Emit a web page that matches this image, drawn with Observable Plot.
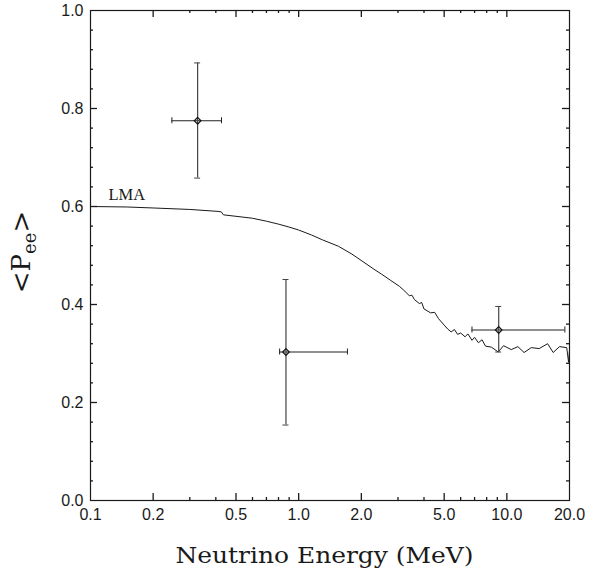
<!DOCTYPE html>
<html>
<head>
<meta charset="utf-8">
<script src="https://cdn.jsdelivr.net/npm/d3@7"></script>
<script src="https://cdn.jsdelivr.net/npm/@observablehq/plot@0.6"></script>
<style>
  html, body { margin: 0; padding: 0; background: #fff; }
</style>
</head>
<body>
<div id="chart"></div>
<script>
// LMA survival probability curve
const curveE = [0.1, 0.15, 0.2, 0.3, 0.41, 0.425, 0.435, 0.5, 0.6, 0.7, 0.8, 0.9, 1.0, 1.15, 1.3, 1.55, 1.8, 2.06, 2.3, 2.5, 2.75, 3.05, 3.2, 3.4, 3.5, 3.6, 3.8, 3.9, 4.0, 4.3, 4.5, 4.7, 5.0, 5.2, 5.4, 5.6, 5.8, 6.0, 6.3, 6.5, 6.8, 7.0, 7.3, 7.6, 7.9, 8.43, 9.1, 9.64, 10.5, 11.3, 12.1, 13.1, 14.3, 15.7, 16.7, 17.9, 19.4, 19.8, 20.0];
const curveP = [0.600, 0.599, 0.597, 0.594, 0.590, 0.589, 0.583, 0.580, 0.576, 0.570, 0.564, 0.558, 0.552, 0.542, 0.532, 0.519, 0.503, 0.486, 0.472, 0.462, 0.450, 0.437, 0.429, 0.418, 0.419, 0.410, 0.402, 0.404, 0.391, 0.383, 0.384, 0.371, 0.358, 0.350, 0.344, 0.349, 0.339, 0.342, 0.334, 0.340, 0.327, 0.333, 0.322, 0.328, 0.315, 0.313, 0.303, 0.316, 0.308, 0.314, 0.302, 0.312, 0.310, 0.320, 0.302, 0.314, 0.312, 0.282, 0.306];

// Measured points with error bars
const pointE    = [0.327, 0.869, 9.14];
const pointELow = [0.246, 0.81, 6.8];
const pointEHigh= [0.426, 1.715, 19.0];
const pointP    = [0.775, 0.303, 0.348];
const pointPLow = [0.658, 0.154, 0.303];
const pointPHigh= [0.893, 0.451, 0.396];

// Annotation
const annText = ["LMA"];
const annE = [0.122];
const annP = [0.614];

// Ticks
const xTickValues = [0.1, 0.2, 0.5, 1, 2, 5, 10, 20];
const xTickLabels = ["0.1", "0.2", "0.5", "1.0", "2.0", "5.0", "10.0", "20.0"];
const xMajor = [0.2, 0.5, 1, 2, 5, 10];
const xMinor = [0.3, 0.4, 0.6, 0.7, 0.8, 0.9, 3, 4, 6, 7, 8, 9];
const yTickValues = [0, 0.2, 0.4, 0.6, 0.8, 1.0];
const yTickLabels = ["0.0", "0.2", "0.4", "0.6", "0.8", "1.0"];
const yMajor = [0.2, 0.4, 0.6, 0.8];
const yMinor = [0.04, 0.08, 0.12, 0.16, 0.24, 0.28, 0.32, 0.36, 0.44, 0.48, 0.52, 0.56, 0.64, 0.68, 0.72, 0.76, 0.84, 0.88, 0.92, 0.96];

const xTitle = "Neutrino Energy (MeV)";

const xDomain = [0.1, 20], yDomain = [0, 1];

const curve = curveE.map((e, i) => ({e, p: curveP[i]}));
const pts = pointE.map((e, i) => ({e, lo: pointELow[i], hi: pointEHigh[i], p: pointP[i], plo: pointPLow[i], phi: pointPHigh[i]}));
const ann = annText.map((t, i) => ({t, e: annE[i], p: annP[i]}));

const W = 589, H = 577;
const mL = 90, mR = 20, mT = 10, mB = 77;
const plotW = W - mL - mR, plotH = H - mT - mB;
const ink = "#1a1a1a";
const majLen = 7, minLen = 3;

// tick segments in data units (pixel length converted through the domain)
const yLen = px => (yDomain[1] - yDomain[0]) * px / plotH;
const xAt = (from, px, dir) => from * Math.pow(xDomain[1] / xDomain[0], dir * px / plotW);

const xTickSegs = [];
for (const [vals, len] of [[xMajor, majLen], [xMinor, minLen]]) {
  for (const v of vals) {
    xTickSegs.push({v, a: yDomain[0], b: yDomain[0] + yLen(len)});
    xTickSegs.push({v, a: yDomain[1] - yLen(len), b: yDomain[1]});
  }
}
const yTickSegs = [];
for (const [vals, len] of [[yMajor, majLen], [yMinor, minLen]]) {
  for (const v of vals) {
    yTickSegs.push({v, a: xDomain[0], b: xAt(xDomain[0], len, 1)});
    yTickSegs.push({v, a: xAt(xDomain[1], len, -1), b: xDomain[1]});
  }
}

const chart = Plot.plot({
  width: W, height: H,
  marginLeft: mL, marginRight: mR, marginTop: mT, marginBottom: mB,
  style: {fontFamily: "Liberation Sans, sans-serif", fontSize: "16px", color: ink, background: "#fff"},
  x: {type: "log", domain: xDomain, label: null},
  y: {domain: yDomain, label: null},
  marks: [
    Plot.frame({stroke: ink, strokeWidth: 1.2, fill: "none"}),
    // tick labels
    Plot.axisX({ticks: xTickValues, tickFormat: d => xTickLabels[xTickValues.findIndex(v => Math.abs(v - d) < 1e-9)], tickSize: 0, tickPadding: 8, label: null, fontSize: 16}),
    Plot.axisY({ticks: yTickValues, tickFormat: d => yTickLabels[yTickValues.findIndex(v => Math.abs(v - d) < 1e-9)], tickSize: 0, tickPadding: 7, label: null, fontSize: 16}),
    // inside ticks on all four sides
    Plot.ruleX(xTickSegs, {x: "v", y1: "a", y2: "b", stroke: ink, strokeWidth: 1.3}),
    Plot.ruleY(yTickSegs, {y: "v", x1: "a", x2: "b", stroke: ink, strokeWidth: 1.3}),
    // curve
    Plot.line(curve, {x: "e", y: "p", stroke: ink, strokeWidth: 1}),
    // error bars
    Plot.ruleY(pts, {y: "p", x1: "lo", x2: "hi", stroke: "#222", strokeWidth: 1.1}),
    Plot.ruleX(pts, {x: "e", y1: "plo", y2: "phi", stroke: "#444", strokeWidth: 1.2}),
    Plot.ruleX(pts, {x: "lo", y1: "p", y2: "p", insetTop: -3, insetBottom: -3, stroke: "#222"}),
    Plot.ruleX(pts, {x: "hi", y1: "p", y2: "p", insetTop: -3, insetBottom: -3, stroke: "#222"}),
    Plot.ruleY(pts, {y: "plo", x1: "e", x2: "e", insetLeft: -3, insetRight: -3, stroke: "#444"}),
    Plot.ruleY(pts, {y: "phi", x1: "e", x2: "e", insetLeft: -3, insetRight: -3, stroke: "#444"}),
    Plot.dot(pts, {x: "e", y: "p", symbol: "diamond2", r: 3, stroke: "#111", strokeWidth: 1.2, fill: "none"}),
    // annotation
    Plot.text(ann, {x: "e", y: "p", text: "t", textAnchor: "start", lineAnchor: "bottom", fontFamily: "Liberation Serif, serif", fontSize: 16.5, fill: ink})
  ]
});

document.getElementById("chart").appendChild(chart);

// axis titles
const svg = d3.select(chart);
svg.append("text")
  .attr("x", mL + plotW / 2 - 5)
  .attr("y", 563)
  .attr("text-anchor", "middle")
  .attr("font-family", "DejaVu Serif, serif")
  .attr("font-size", 22)
  .attr("fill", ink)
  .attr("textLength", 298)
  .attr("lengthAdjust", "spacingAndGlyphs")
  .text(xTitle);

const yt = svg.append("text")
  .attr("transform", "translate(30,252) rotate(-90)")
  .attr("text-anchor", "middle")
  .attr("font-family", "DejaVu Serif, serif")
  .attr("font-size", 26)
  .attr("fill", ink);
yt.append("tspan").text("<P");
yt.append("tspan").attr("font-size", 18).attr("dy", 6).text("ee");
yt.append("tspan").attr("dy", -6).text(">");
</script>
</body>
</html>
